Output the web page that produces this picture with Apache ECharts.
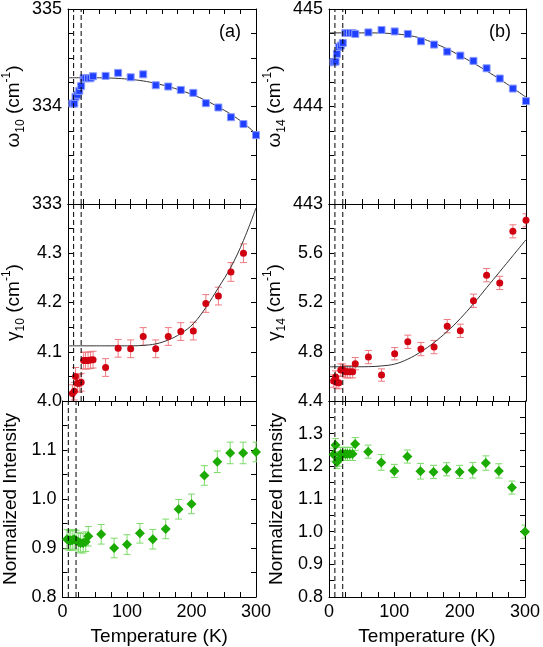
<!DOCTYPE html>
<html><head><meta charset="utf-8">
<script src="https://cdn.jsdelivr.net/npm/echarts@6/dist/echarts.min.js"></script>
<style>html,body{margin:0;padding:0;background:#fff}#c{width:543px;height:647px}</style>
</head><body><div id="c"></div>
<script>
// ---------- data ----------
const temps = [7,10,12,15,18,21,25,28,32,36,40,60,80,100,120,140,160,180,200,220,240,260,280,300];

const omega10 = [334.03,334.03,334.10,334.12,334.16,334.21,334.29,334.29,334.29,334.29,334.31,334.314,334.345,334.30,334.33,334.218,334.205,334.17,334.14,334.034,333.99,333.89,333.82,333.706];
const omega10Err = [0.012,0.012,0.012,0.012,0.012,0.012,0.012,0.012,0.012,0.012,0.012,0.012,0.014,0.014,0.014,0.014,0.012,0.012,0.012,0.012,0.012,0.012,0.012,0.012];

const omega14 = [444.454,444.46,444.54,444.61,444.625,444.652,444.754,444.754,444.754,444.754,444.744,444.76,444.785,444.77,444.744,444.669,444.635,444.563,444.522,444.468,444.392,444.287,444.184,444.055];
const omega14Err = [0.015,0.015,0.015,0.015,0.015,0.015,0.012,0.012,0.012,0.012,0.012,0.015,0.015,0.015,0.015,0.015,0.015,0.015,0.015,0.02,0.02,0.02,0.015,0.015];

const gamma10 = [4.015,4.02,4.05,4.036,4.036,4.038,4.082,4.082,4.082,4.083,4.084,4.068,4.107,4.106,4.131,4.106,4.131,4.141,4.142,4.198,4.213,4.262,4.300,null];
const gamma10Err = [0.018,0.018,0.018,0.018,0.018,0.018,0.017,0.017,0.017,0.017,0.017,0.018,0.018,0.018,0.018,0.018,0.018,0.018,0.018,0.018,0.018,0.019,0.019,0];

const gamma14 = [4.562,4.595,4.551,4.549,4.651,4.651,4.638,4.638,4.638,4.638,4.703,4.757,4.611,4.784,4.881,4.822,4.838,5.008,4.970,5.214,5.422,5.359,5.778,5.868];
const gamma14Err = [0.05,0.05,0.05,0.05,0.05,0.05,0.05,0.05,0.05,0.05,0.05,0.054,0.05,0.05,0.054,0.054,0.054,0.054,0.054,0.054,0.054,0.054,0.053,0.053];

const intensity10 = [0.918,0.916,0.915,0.916,0.918,0.916,0.912,0.910,0.910,0.913,0.924,0.928,0.900,0.907,0.930,0.918,0.939,0.979,0.990,1.048,1.076,1.094,1.094,1.096];
const intensity10Err = [0.02,0.02,0.02,0.02,0.02,0.02,0.02,0.02,0.02,0.02,0.02,0.02,0.02,0.02,0.02,0.02,0.02,0.02,0.02,0.02,0.022,0.022,0.022,0.02];

const intensity14 = [1.236,1.265,1.213,1.220,1.238,1.238,1.238,1.238,1.238,1.238,1.268,1.245,1.212,1.186,1.230,1.185,1.183,1.191,1.183,1.188,1.210,1.186,1.135,1.000];
const intensity14Err = [0.02,0.02,0.02,0.02,0.02,0.02,0.02,0.02,0.02,0.02,0.02,0.02,0.024,0.02,0.02,0.024,0.02,0.02,0.02,0.024,0.022,0.022,0.02,0.02];

const fitT = [0,20,40,60,80,100,120,140,160,180,200,220,240,260,280,300];
const omega10Fit = [334.295,334.295,334.295,334.293,334.288,334.278,334.262,334.237,334.205,334.165,334.118,334.062,333.995,333.92,333.83,333.72];
const omega14Fit = [444.755,444.755,444.755,444.755,444.753,444.745,444.73,444.70,444.65,444.59,444.52,444.445,444.365,444.28,444.19,444.095];
const gamma10Fit = [4.112,4.112,4.112,4.112,4.112,4.112,4.113,4.116,4.124,4.137,4.157,4.19,4.23,4.272,4.326,4.392];
const gamma14Fit = [4.678,4.678,4.678,4.679,4.685,4.70,4.74,4.80,4.875,4.965,5.07,5.19,5.32,5.45,5.58,5.71];

const transitionT = [9, 21];
const xTickLabels = [0,100,200,300];
const yLabelsOmega10 = [333,334,335];
const yLabelsOmega14 = [443,444,445];
const yLabelsGamma10 = [4.0,4.1,4.2,4.3];
const yLabelsGamma14 = [4.4,4.8,5.2,5.6];
const yLabelsInt10 = [0.8,0.9,1.0,1.1];
const yLabelsInt14 = [0.8,0.9,1.0,1.1,1.2,1.3];

// ---------- layout / styles ----------
const FONT = '"Liberation Sans", Arial, Helvetica, sans-serif';
const BLUE = '#2040ff', BLUE_E = '#8c9cff';
const RED = '#d00010', RED_E = '#ee7a80';
const GREEN = '#1aaa00', GREEN_E = '#7ddc6a';

const cols = [{left:59, width:197}, {left:329, width:197}];
const rows = [{top:8, height:196}, {top:204, height:197}, {top:401, height:198}];

const nameRich = {
  t:{fontSize:19, fontFamily:FONT, color:'#000', lineHeight:26, verticalAlign:'middle'},
  s:{fontSize:12, fontFamily:FONT, color:'#000', lineHeight:26, verticalAlign:'bottom'},
  p:{fontSize:12, fontFamily:FONT, color:'#000', lineHeight:26, verticalAlign:'top'}
};

const panels = [
  {col:0,row:0, vals:omega10, err:omega10Err, fit:omega10Fit, min:333, max:335, step:0.25, labels:yLabelsOmega10, color:BLUE, ecol:BLUE_E, symbol:'rect', size:7, name:'{t|ω}{s|10}{t| (cm}{p|-1}{t|)}', tag:'(a)', dec:0},
  {col:1,row:0, vals:omega14, err:omega14Err, fit:omega14Fit, min:443, max:445, step:0.25, labels:yLabelsOmega14, color:BLUE, ecol:BLUE_E, symbol:'rect', size:7, name:'{t|ω}{s|14}{t| (cm}{p|-1}{t|)}', tag:'(b)', dec:0},
  {col:0,row:1, vals:gamma10, err:gamma10Err, fit:gamma10Fit, min:4.0, max:4.4, step:0.05, labels:yLabelsGamma10, color:RED, ecol:RED_E, symbol:'circle', size:7, name:'{t|γ}{s|10}{t| (cm}{p|-1}{t|)}', dec:1},
  {col:1,row:1, vals:gamma14, err:gamma14Err, fit:gamma14Fit, min:4.4, max:6.0, step:0.2, labels:yLabelsGamma14, color:RED, ecol:RED_E, symbol:'circle', size:7, name:'{t|γ}{s|14}{t| (cm}{p|-1}{t|)}', dec:1},
  {col:0,row:2, vals:intensity10, err:intensity10Err, fit:null, min:0.8, max:1.2, step:0.05, labels:yLabelsInt10, color:GREEN, ecol:GREEN_E, symbol:'diamond', size:10, name:'{t|Normalized Intensity}', dec:1},
  {col:1,row:2, vals:intensity14, err:intensity14Err, fit:null, min:0.8, max:1.4, step:0.05, labels:yLabelsInt14, color:GREEN, ecol:GREEN_E, symbol:'diamond', size:10, name:'{t|Normalized Intensity}', dec:1}
];

const grid = [], xAxis = [], yAxis = [], series = [], graphic = [];
const tick = {show:true, inside:true, length:5, lineStyle:{color:'#000', width:1}};
const line = {show:true, onZero:false, lineStyle:{color:'#000', width:1}};
const inList = (v, arr) => arr.some(a => Math.abs(a - v) < 1e-6);

panels.forEach((p, i) => {
  const c = cols[p.col], r = rows[p.row];
  grid.push({left:c.left, top:r.top, width:c.width, height:r.height, containLabel:false});
  const bottomRow = p.row === 2;
  xAxis.push({type:'value', gridIndex:i, position:'bottom', min:0, max:300, interval:25,
    axisLine:line, axisTick:tick, splitLine:{show:false},
    axisLabel:{show:bottomRow, fontSize:18, fontFamily:FONT, color:'#000', margin:6,
      formatter:v => inList(v, xTickLabels) ? String(v) : ''},
    name: bottomRow ? 'Temperature (K)' : '', nameLocation:'middle', nameGap:30,
    nameTextStyle:{fontSize:19, fontFamily:FONT, color:'#000'}});
  xAxis.push({type:'value', gridIndex:i, position:'top', min:0, max:300, interval:25,
    axisLine:line, axisTick:tick, splitLine:{show:false}, axisLabel:{show:false}});
  yAxis.push({type:'value', gridIndex:i, position:'left', min:p.min, max:p.max, interval:p.step,
    axisLine:line, axisTick:tick, splitLine:{show:false},
    axisLabel:{show:true, fontSize:18, fontFamily:FONT, color:'#000', margin:6,
      formatter:v => inList(v, p.labels) ? v.toFixed(p.dec) : ''},
    name:p.name, nameLocation:'middle', nameRotate:90, nameGap:p.row===2 ? 39 : 41,
    nameTextStyle:{rich:nameRich}});
  yAxis.push({type:'value', gridIndex:i, position:'right', min:p.min, max:p.max, interval:p.step,
    axisLine:line, axisTick:tick, splitLine:{show:false}, axisLabel:{show:false}});

  const xi = 2*i, yi = 2*i;
  // error bars
  const ebData = temps.map((t, k) => p.vals[k] == null ? null : [t, p.vals[k] - p.err[k], p.vals[k] + p.err[k]]).filter(d => d);
  series.push({type:'custom', xAxisIndex:xi, yAxisIndex:yi, z:2, silent:true, animation:false, clip:true,
    encode:{x:0, y:[1,2]}, data:ebData,
    renderItem:(params, api) => {
      const x = api.value(0), lo = api.value(1), hi = api.value(2);
      const a = api.coord([x, hi]), b = api.coord([x, lo]);
      const w = 3.5, st = {stroke:p.ecol, lineWidth:1};
      return {type:'group', children:[
        {type:'line', shape:{x1:a[0], y1:a[1], x2:b[0], y2:b[1]}, style:st},
        {type:'line', shape:{x1:a[0]-w, y1:a[1], x2:a[0]+w, y2:a[1]}, style:st},
        {type:'line', shape:{x1:b[0]-w, y1:b[1], x2:b[0]+w, y2:b[1]}, style:st}
      ]};
    }});
  // fit line
  if (p.fit) {
    series.push({type:'line', xAxisIndex:xi, yAxisIndex:yi, z:3, silent:true, animation:false,
      data:fitT.map((t, k) => [t, p.fit[k]]), showSymbol:false, symbol:'none', smooth:0.4,
      lineStyle:{color:'#333', width:1}});
  }
  // markers
  series.push({type:'scatter', xAxisIndex:xi, yAxisIndex:yi, z:4, silent:true, animation:false,
    data:temps.map((t, k) => [t, p.vals[k]]).filter(d => d[1] != null),
    symbol:p.symbol, symbolSize:p.size,
    itemStyle:{color:p.color, opacity:1, borderColor:p.ecol, borderWidth:p.symbol==='rect'?1:0}});
  // dashed transition lines spanning the panel
  series.push({type:'custom', xAxisIndex:xi, yAxisIndex:yi, z:5, silent:true, animation:false, clip:false,
    encode:{x:0}, data:transitionT.map(t => [t, p.min]),
    renderItem:(params, api) => {
      const t = api.value(0);
      const a = api.coord([t, p.min]), b = api.coord([t, p.max]);
      return {type:'line', shape:{x1:a[0], y1:a[1], x2:b[0], y2:b[1]},
        style:{stroke:'#000', lineWidth:1, lineDash:[5,3]}};
    }});
  if (p.tag) {
    graphic.push({type:'text', left:c.left + c.width - 37, top:r.top + 15,
      style:{text:p.tag, fontSize:18, fontFamily:FONT, fill:'#000'}});
  }
});

const chart = echarts.init(document.getElementById('c'), null, {renderer:'canvas'});
chart.setOption({animation:false, backgroundColor:'#fff', grid, xAxis, yAxis, series, graphic});
</script>
</body></html>
